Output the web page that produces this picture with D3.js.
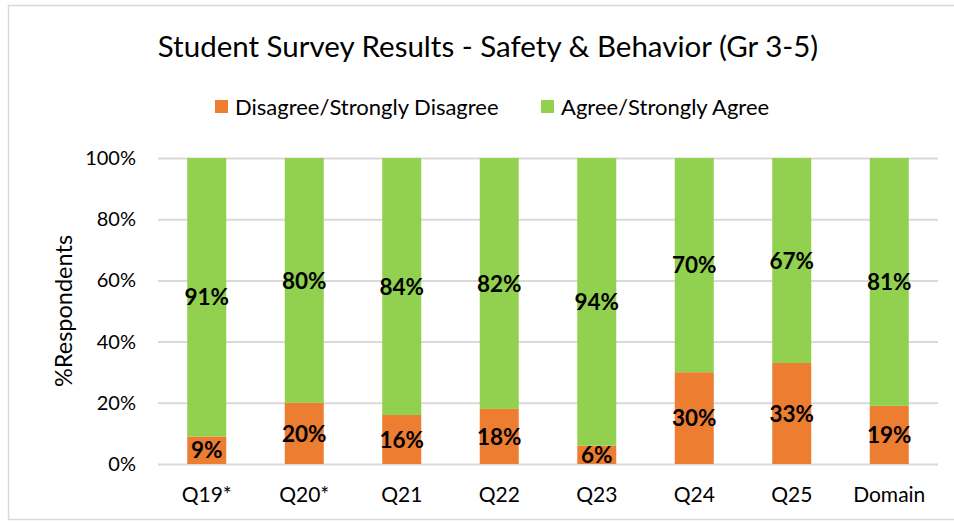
<!DOCTYPE html>
<html>
<head>
<meta charset="utf-8">
<script src="https://cdn.jsdelivr.net/npm/d3@7"></script>
<style>
  body { margin: 0; background: #fff; }
  svg { display: block; font-family: Lato, "Open Sans", sans-serif; }
</style>
</head>
<body>
<svg id="chart" width="954" height="522"></svg>
<script>
const questions = ["Q19*", "Q20*", "Q21", "Q22", "Q23", "Q24", "Q25", "Domain"];
const disagree = [9, 20, 16, 18, 6, 30, 33, 19];
const agree = [91, 80, 84, 82, 94, 70, 67, 81];
const yTicks = [0, 20, 40, 60, 80, 100];
const seriesNames = ["Disagree/Strongly Disagree", "Agree/Strongly Agree"];
const seriesColors = ["#ed7d31", "#92d050"];

const width = 954, height = 522;
const margin = {top: 158, right: 16, bottom: 58, left: 158};

const svg = d3.select("#chart");

// chart frame
svg.append("rect")
    .attr("x", 8.5).attr("y", 5.5)
    .attr("width", width + 10).attr("height", height - 8)
    .attr("fill", "none")
    .attr("stroke", "#d9d9d9")
    .attr("stroke-width", 1.5);

const rows = questions.map((q, i) => ({q: q, disagree: disagree[i], agree: agree[i]}));
const keys = ["disagree", "agree"];
const stacked = d3.stack().keys(keys)(rows);

const x = d3.scaleBand()
    .domain(questions)
    .range([margin.left, width - margin.right])
    .paddingInner(0.6)
    .paddingOuter(0.3);

const y = d3.scaleLinear()
    .domain([0, 100])
    .range([height - margin.bottom, margin.top]);

// gridlines
svg.append("g")
    .selectAll("line")
    .data(yTicks)
    .join("line")
    .attr("x1", margin.left)
    .attr("x2", width - margin.right)
    .attr("y1", d => y(d) + 0.5)
    .attr("y2", d => y(d) + 0.5)
    .attr("stroke", "#d9d9d9")
    .attr("stroke-width", 2);

// y tick labels
svg.append("g")
    .attr("font-size", 20)
    .attr("text-anchor", "end")
    .attr("fill", "#000")
    .selectAll("text")
    .data(yTicks)
    .join("text")
    .attr("x", margin.left - 22)
    .attr("y", d => y(d))
    .attr("dy", "0.35em")
    .text(d => d + "%");

// x labels
svg.append("g")
    .attr("font-size", 21)
    .attr("text-anchor", "middle")
    .selectAll("text")
    .data(questions)
    .join("text")
    .attr("x", d => x(d) + x.bandwidth() / 2)
    .attr("y", height - margin.bottom + 38)
    .text(d => d);

// bars
const color = d3.scaleOrdinal().domain(keys).range(seriesColors);

const layers = svg.append("g")
    .selectAll("g")
    .data(stacked)
    .join("g")
    .attr("fill", d => color(d.key));

layers.selectAll("rect")
    .data(d => d)
    .join("rect")
    .attr("x", d => x(d.data.q))
    .attr("y", d => y(d[1]))
    .attr("width", x.bandwidth())
    .attr("height", d => y(d[0]) - y(d[1]));

// data labels
layers.selectAll("text")
    .data(d => d)
    .join("text")
    .attr("x", d => x(d.data.q) + x.bandwidth() / 2)
    .attr("y", d => (y(d[0]) + y(d[1])) / 2)
    .attr("dy", "0.36em")
    .attr("text-anchor", "middle")
    .attr("font-size", 22.5)
    .attr("font-weight", "bold")
    .attr("fill", "#000")
    .text(d => (d[1] - d[0]) + "%");

// y axis title
svg.append("text")
    .attr("transform", `translate(72,${(y(0) + y(100)) / 2}) rotate(-90)`)
    .attr("text-anchor", "middle")
    .attr("font-size", 23.5)
    .text("%Respondents");

// title
svg.append("text")
    .attr("x", 488)
    .attr("y", 57)
    .attr("text-anchor", "middle")
    .attr("font-size", 29.5)
    .text("Student Survey Results - Safety & Behavior (Gr 3-5)");

// legend
const legend = svg.append("g")
    .attr("font-size", 22);
const legendX = [215, 541];
const item = legend.selectAll("g")
    .data(seriesNames)
    .join("g")
    .attr("transform", (d, i) => `translate(${legendX[i]},107)`);
item.append("rect")
    .attr("x", 0).attr("y", -7)
    .attr("width", 13).attr("height", 13)
    .attr("fill", (d, i) => seriesColors[i]);
item.append("text")
    .attr("x", 20)
    .attr("dy", "0.35em")
    .text(d => d);
</script>
</body>
</html>
